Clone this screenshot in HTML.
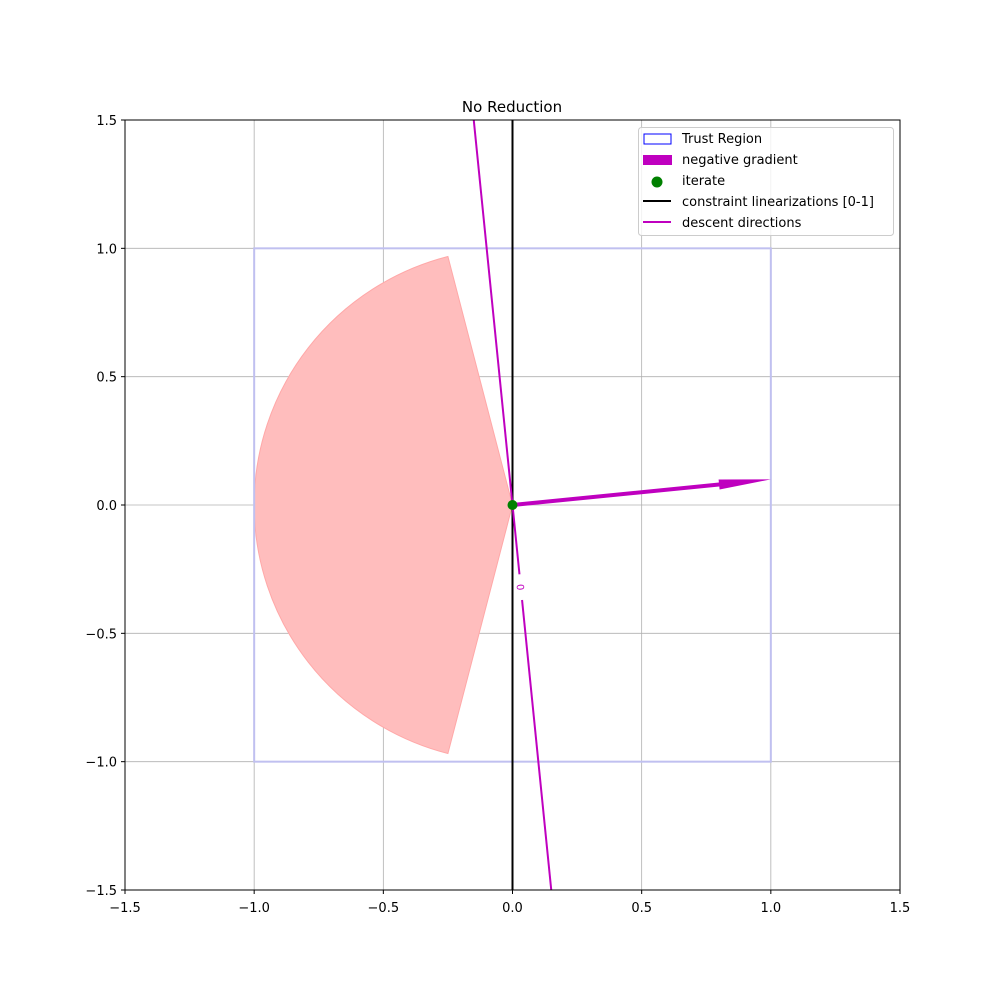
<!DOCTYPE html>
<html><head><meta charset="utf-8"><style>
body{margin:0;background:#fff}
svg text{font-family:"DejaVu Sans","Liberation Sans",sans-serif}
</style></head><body>
<svg id="chart" width="1000" height="1000" xmlns="http://www.w3.org/2000/svg">
<text x="512" y="112" font-size="15" text-anchor="middle">No Reduction</text>
<g id="grid"></g>
<g id="plot"></g>
<g id="ticks"></g>
<rect x="125" y="120" width="775" height="770" fill="none" stroke="#000" stroke-width="1"/>
<g>
<rect x="638.5" y="127.5" width="255" height="108" rx="3" fill="#fff" fill-opacity="0.8" stroke="#ccc"/>
<rect x="644" y="134" width="27" height="10" fill="none" stroke="#0000ff"/>
<text x="682" y="143" font-size="13">Trust Region</text>
<rect x="643" y="155" width="29" height="10" fill="#bf00bf"/>
<text x="682" y="164" font-size="13">negative gradient</text>
<circle cx="657" cy="182" r="5.5" fill="green"/>
<text x="682" y="185" font-size="13">iterate</text>
<line x1="643" y1="201" x2="671" y2="201" stroke="#000" stroke-width="2"/>
<text x="682" y="206" font-size="13">constraint linearizations [0-1]</text>
<line x1="643" y1="222" x2="671" y2="222" stroke="#bf00bf" stroke-width="2"/>
<text x="682" y="227" font-size="13">descent directions</text>
</g>
</svg>
<script>
const xTicks=[-1.5,-1.0,-0.5,0.0,0.5,1.0,1.5];
const yTicks=[-1.5,-1.0,-0.5,0.0,0.5,1.0,1.5];
const trustRadius=[1.0];
const gradient=[1.0,0.1];
const descentSlope=[-0.1];
const wedgeHalfAngleDeg=[104.48];
const iterate=[0,0];
const NS="http://www.w3.org/2000/svg";
const X=v=>125+(v+1.5)/3*775, Y=v=>890-(v+1.5)/3*770;
function mk(tag,attrs,parent){const e=document.createElementNS(NS,tag);for(const k in attrs)e.setAttribute(k,attrs[k]);parent.appendChild(e);return e;}
const grid=document.getElementById('grid'),plot=document.getElementById('plot'),ticks=document.getElementById('ticks');
xTicks.forEach(t=>{
 const l=mk('line',{x1:X(t),x2:X(t),y1:120,y2:890,stroke:'#b0b0b0','stroke-width':0.8},grid);
 
 mk('line',{x1:X(t),x2:X(t),y1:890,y2:894,stroke:'#000'},ticks);
 const tx=mk('text',{x:X(t),y:912,'font-size':13,'text-anchor':'middle'},ticks);
 tx.textContent=t.toFixed(1).replace('-','\u2212');
 
});
yTicks.forEach(t=>{
 const l=mk('line',{y1:Y(t),y2:Y(t),x1:125,x2:900,stroke:'#b0b0b0','stroke-width':0.8},grid);
 
 mk('line',{y1:Y(t),y2:Y(t),x1:121,x2:125,stroke:'#000'},ticks);
 const tx=mk('text',{x:117,y:Y(t)+5,'font-size':13,'text-anchor':'end'},ticks);
 tx.textContent=t.toFixed(1).replace('-','\u2212');
 
});
const r=trustRadius[0];
const a=wedgeHalfAngleDeg[0]*Math.PI/180;
const p1=[Math.cos(a)*r,Math.sin(a)*r],p2=[Math.cos(a)*r,-Math.sin(a)*r];
const rp=X(r)-X(0), rpy=Y(0)-Y(r);
const wedge=mk('path',{d:`M${X(iterate[0])},${Y(iterate[1])} L${X(p1[0])},${Y(p1[1])} A${rp},${rpy} 0 0 0 ${X(p2[0])},${Y(p2[1])} Z`,fill:'#ffbdbd',stroke:'#ffa8a8'},plot);

const tr=mk('rect',{x:X(-r),y:Y(r),width:X(r)-X(-r),height:Y(-r)-Y(r),fill:'none',stroke:'#c0c0f0','stroke-width':2},plot);

const cl=mk('line',{x1:X(0),x2:X(0),y1:120,y2:890,stroke:'#000','stroke-width':2},plot);

const s=descentSlope[0];
const d1=mk('line',{x1:X(s*1.5),y1:Y(1.5),x2:X(s*-0.27),y2:Y(-0.27),stroke:'#bf00bf','stroke-width':2},plot);

const d2=mk('line',{x1:X(s*-0.37),y1:Y(-0.37),x2:X(s*-1.5),y2:Y(-1.5),stroke:'#bf00bf','stroke-width':2},plot);

const lb=mk('text',{x:X(s*-0.32),y:Y(-0.32)+4,'font-size':10,fill:'#bf00bf','text-anchor':'middle',transform:`rotate(84 ${X(s*-0.32)} ${Y(-0.32)})`},plot);
lb.textContent='0';
const gx=X(gradient[0]),gy=Y(gradient[1]),ox=X(0),oy=Y(0);
const ang=Math.atan2(gy-oy,gx-ox),L=Math.hypot(gx-ox,gy-oy),hl=52,hw=5,sw=2;
const c=Math.cos(ang),sn=Math.sin(ang);
const pt=(u,v)=>`${ox+u*c-v*sn},${oy+u*sn+v*c}`;
const ar=mk('polygon',{points:[pt(0,-sw),pt(L-hl,-sw),pt(L-hl,-hw),pt(L,0),pt(L-hl,hw),pt(L-hl,sw),pt(0,sw)].join(' '),fill:'#bf00bf'},plot);

const it=mk('circle',{cx:X(iterate[0]),cy:Y(iterate[1]),r:5,fill:'green'},plot);

</script>
</body></html>
